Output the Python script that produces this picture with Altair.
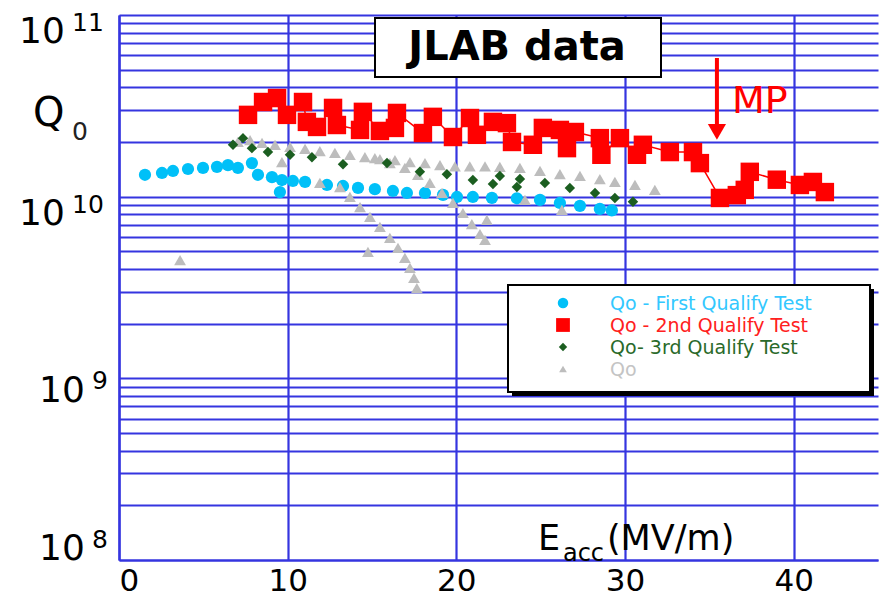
import altair as alt
import pandas as pd

# ---------------- data ----------------
cyan_x = [1.54, 2.55, 3.20, 4.09, 4.98, 5.81, 6.46, 7.05, 7.88, 8.24, 9.07, 9.66, 9.54,
          10.31, 11.03, 12.33, 13.28, 14.17, 15.17, 16.24, 17.07, 18.14, 19.21, 20.04,
          20.98, 22.11, 23.59, 24.96, 26.14, 27.33, 28.51, 29.22]
cyan_q = [1.32e10, 1.35e10, 1.385e10, 1.42e10, 1.44e10, 1.46e10, 1.49e10, 1.44e10, 1.53e10,
          1.32e10, 1.28e10, 1.235e10, 1.06e10, 1.22e10, 1.205e10, 1.16e10, 1.145e10, 1.117e10,
          1.10e10, 1.075e10, 1.048e10, 1.048e10, 1.022e10, 9.96e9, 9.96e9, 9.84e9, 9.8e9,
          9.6e9, 9.23e9, 8.9e9, 8.56e9, 8.4e9]

red_x = [7.65, 8.54, 9.37, 9.96, 10.91, 11.14, 11.74, 12.69, 12.92, 14.29, 14.46, 15.47,
         16.36, 16.48, 18.02, 18.61, 19.80, 20.81, 21.22, 22.17, 23.0, 23.3, 24.54, 25.13,
         26.14, 26.56, 27.03, 28.51, 28.6, 29.70, 30.71, 31.06, 32.66, 34.03, 34.44, 35.63,
         36.63, 37.1, 37.40, 39.00, 40.37, 41.14, 41.85]
red_q = [2.82e10, 3.32e10, 3.49e10, 2.82e10, 3.32e10, 2.58e10, 2.42e10, 3.08e10, 2.48e10,
         2.33e10, 2.93e10, 2.30e10, 2.39e10, 2.89e10, 2.24e10, 2.75e10, 2.13e10, 2.71e10,
         2.19e10, 2.58e10, 2.54e10, 2.00e10, 1.93e10, 2.39e10, 2.33e10, 1.85e10, 2.27e10,
         2.10e10, 1.70e10, 2.10e10, 1.70e10, 1.93e10, 1.76e10, 1.76e10, 1.53e10, 9.84e9,
         1.02e10, 1.09e10, 1.37e10, 1.24e10, 1.16e10, 1.205e10, 1.06e10]

green_x = [6.76, 7.35, 7.88, 8.83, 10.14, 11.44, 13.28, 15.89, 17.84, 19.44, 20.98, 22.17,
           22.58, 23.59, 23.77, 25.25, 26.73, 28.22, 29.40, 30.47]
green_q = [1.93e10, 2.10e10, 1.85e10, 1.76e10, 1.70e10, 1.65e10, 1.51e10, 1.53e10, 1.37e10,
           1.33e10, 1.235e10, 1.175e10, 1.30e10, 1.13e10, 1.25e10, 1.19e10, 1.117e10,
           1.048e10, 9.84e9, 9.38e9]

gray_x = [7.05, 7.77, 8.48, 9.25, 10.14, 11.03, 11.91, 12.80, 13.69, 14.58, 15.47, 16.36,
          17.25, 18.14, 19.03, 19.92, 20.80, 21.70, 22.58, 23.77, 24.96, 26.14, 27.33, 28.51,
          29.40, 30.59, 31.77,
          15.17, 16.06, 16.95, 17.72, 18.43, 19.15, 19.80, 20.39, 20.92, 21.40, 21.70,
          13.10, 13.69, 14.29, 14.88, 15.47, 16.06, 16.54, 16.95, 17.25, 17.49, 17.66,
          3.62, 14.76, 21.81, 9.66, 11.91, 24.07, 26.26]
gray_q = [2.00e10, 2.05e10, 1.98e10, 1.93e10, 1.88e10, 1.83e10, 1.78e10, 1.74e10, 1.70e10,
          1.65e10, 1.61e10, 1.59e10, 1.55e10, 1.53e10, 1.49e10, 1.47e10, 1.47e10, 1.47e10,
          1.46e10, 1.44e10, 1.385e10, 1.33e10, 1.30e10, 1.25e10, 1.205e10, 1.16e10, 1.09e10,
          1.63e10, 1.53e10, 1.44e10, 1.316e10, 1.19e10, 1.048e10, 9.23e9, 8.13e9, 7.07e9,
          6.23e9, 5.78e9,
          1.13e10, 9.96e9, 8.77e9, 7.73e9, 6.81e9, 5.93e9, 5.22e9, 4.60e9, 4.05e9, 3.57e9,
          3.14e9,
          4.48e9, 4.96e9, 7.44e9, 1.55e10, 1.19e10, 9.59e9, 8.45e9]

x_ticks = [0, 10, 20, 30, 40]
y_label_values = [1e11, 1e10, 1e9, 1e8]
y_label_exps = ["11", "10", "9", "8"]
legend_labels = ["Qo - First Qualify Test", "Qo - 2nd Qualify Test", "Qo- 3rd Qualify Test", "Qo"]

# ---------------- styling ----------------
BLUE = "#3535e0"
FONT = "DejaVu Sans"
CYAN = "#00c0f8"
RED = "#ff0000"
GREEN = "#1b5e20"
GRAY = "#bdbdbd"

xs = alt.Scale(domain=[0, 45], nice=False, zero=False)
ys = alt.Scale(type="log", domain=[1e8, 1e11], nice=False)
grid_vals = [m * 10.0 ** e for e in (8, 9, 10) for m in range(1, 10)] + [1e11]

X = alt.X("E:Q", scale=xs, axis=alt.Axis(
    values=x_ticks, grid=True, gridColor=BLUE, gridWidth=2.2, gridOpacity=1,
    ticks=False, domain=True, domainColor=BLUE, domainWidth=2.2,
    labelFontSize=31, labelFont=FONT, labelColor="black", labelPadding=6,
    labelFlush=False,
    labelAlign={"condition": {"test": "datum.value == 0", "value": "left"}, "value": "center"},
    title=None))
Y = alt.Y("Q:Q", scale=ys, axis=alt.Axis(
    values=grid_vals, grid=True, gridColor=BLUE, gridWidth=2.2, gridOpacity=1,
    ticks=False, labels=False, domain=True, domainColor=BLUE, domainWidth=2.2,
    title=None))


def df(xv, qv):
    return pd.DataFrame({"E": xv, "Q": qv})


def one(text):
    return alt.Chart(pd.DataFrame({"t": [text]}))


layers = []

# data series
layers.append(alt.Chart(df(cyan_x, cyan_q)).mark_point(
    filled=True, shape="circle", size=150, color=CYAN, opacity=1).encode(x=X, y=Y))
layers.append(alt.Chart(df(gray_x, gray_q)).mark_point(
    filled=True, shape="triangle-up", size=140, color=GRAY, opacity=1).encode(x=X, y=Y))
layers.append(alt.Chart(df(green_x, green_q)).mark_point(
    filled=True, shape="diamond", size=110, color=GREEN, opacity=1).encode(x=X, y=Y))
layers.append(alt.Chart(df(red_x, red_q)).mark_line(
    color=RED, strokeWidth=1.5).encode(x=X, y=Y))
layers.append(alt.Chart(df(red_x, red_q)).mark_point(
    filled=True, shape="square", size=340, color=RED, opacity=1).encode(x=X, y=Y))

# MP arrow
layers.append(alt.Chart(pd.DataFrame({"E": [35.45], "Q": [5.8e10], "Q2": [2.4e10]})).mark_rule(
    color=RED, strokeWidth=4).encode(x=X, y=Y, y2="Q2:Q"))
layers.append(alt.Chart(pd.DataFrame({"E": [35.45], "Q": [2.27e10]})).mark_point(
    filled=True, shape="triangle-down", size=330, color=RED, opacity=1).encode(x=X, y=Y))
layers.append(alt.Chart(pd.DataFrame({"E": [36.34], "Q": [2.89e10], "t": ["MP"]})).mark_text(
    font=FONT, fontSize=38, color=RED, align="left", baseline="alphabetic").encode(x=X, y=Y, text="t:N"))

# E_acc (MV/m)
layers.append(alt.Chart(pd.DataFrame({"E": [24.84], "Q": [1.137e8], "t": ["E"]})).mark_text(
    font=FONT, fontSize=35, color="black", align="left", baseline="alphabetic").encode(x=X, y=Y, text="t:N"))
layers.append(alt.Chart(pd.DataFrame({"E": [26.32], "Q": [9.9e7], "t": ["acc"]})).mark_text(
    font=FONT, fontSize=24, color="black", align="left", baseline="alphabetic").encode(x=X, y=Y, text="t:N"))
layers.append(alt.Chart(pd.DataFrame({"E": [28.93], "Q": [1.137e8], "t": ["(MV/m)"]})).mark_text(
    font=FONT, fontSize=35, color="black", align="left", baseline="alphabetic").encode(x=X, y=Y, text="t:N"))

# Title box
layers.append(one("box").mark_rect(fill="white", stroke="black", strokeWidth=2).encode(
    x=alt.value(256), x2=alt.value(542), y=alt.value(3), y2=alt.value(62)))
layers.append(one("JLAB data").mark_text(
    font=FONT, fontSize=40, fontWeight="bold", color="black", align="center", baseline="middle").encode(
    x=alt.value(398), y=alt.value(33), text="t:N"))

# Legend box
layers.append(one("shadow").mark_rect(fill="black").encode(
    x=alt.value(393), x2=alt.value(755), y=alt.value(274), y2=alt.value(381)))
layers.append(one("box").mark_rect(fill="white", stroke="black", strokeWidth=2).encode(
    x=alt.value(389), x2=alt.value(751), y=alt.value(270), y2=alt.value(377)))
leg_rows = [288, 310, 332, 354]
leg_marks = [("circle", 110, CYAN, "#33c8ff"), ("square", 190, RED, "#ff2020"),
             ("diamond", 70, GREEN, "#2a6a2a"), ("triangle-up", 60, GRAY, "#c4c4c4")]
for lab, row, (shp, sz, col, tcol) in zip(legend_labels, leg_rows, leg_marks):
    layers.append(one(lab).mark_point(filled=True, shape=shp, size=sz, color=col, opacity=1).encode(
        x=alt.value(444), y=alt.value(row)))
    layers.append(one(lab).mark_text(font=FONT, fontSize=19, color=tcol, align="left",
                                     baseline="middle").encode(
        x=alt.value(491), y=alt.value(row + 1), text="t:N"))

# Y axis labels (10^n)
ystyle = {"11": (-77, -31, 28, 16), "10": (-77, -31, 28, 16),
          "9": (-57, -19, 24, 11), "8": (-57, -19, 0, -12)}
for v, e in zip(y_label_values, y_label_exps):
    bx, sx, bdy, sdy = ystyle[e]
    d = pd.DataFrame({"Q": [v], "t": ["10"], "s": [e]})
    layers.append(alt.Chart(d).mark_text(font=FONT, fontSize=36, color="black", align="center",
                                         baseline="alphabetic", dy=bdy).encode(
        x=alt.value(bx), y=Y, text="t:N"))
    layers.append(alt.Chart(d).mark_text(font=FONT, fontSize=25, color="black", align="center",
                                         baseline="alphabetic", dy=sdy).encode(
        x=alt.value(sx), y=Y, text="s:N"))

# Q0 label
layers.append(one("Q").mark_text(font=FONT, fontSize=40, color="black", align="left",
                                 baseline="alphabetic").encode(x=alt.value(-86), y=alt.value(111), text="t:N"))
layers.append(one("0").mark_text(font=FONT, fontSize=25, color="#222222", align="left",
                                 baseline="alphabetic").encode(x=alt.value(-47), y=alt.value(125), text="t:N"))

chart = alt.layer(*layers).properties(
    width=759, height=545,
    autosize=alt.AutoSizeParams(type="none"),
    padding={"left": 119, "top": 15, "right": 1, "bottom": 37},
    background="white",
).configure_view(stroke=None)

chart.save("out.html", embed_options={"renderer": "svg", "actions": False})
